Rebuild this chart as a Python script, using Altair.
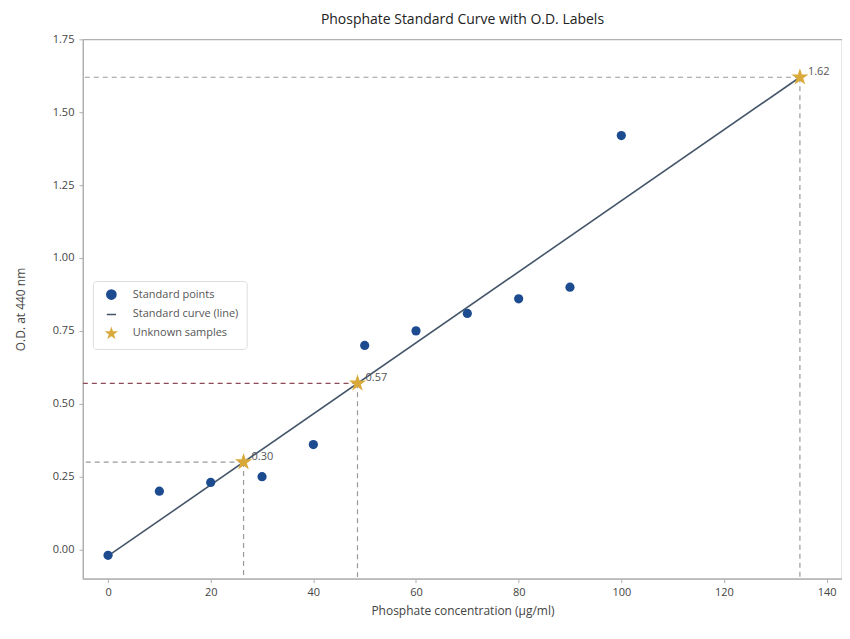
import altair as alt
import pandas as pd

# ---- data ----
std_conc = [0, 10, 20, 30, 40, 50, 60, 70, 80, 90, 100]
std_od = [-0.02, 0.20, 0.23, 0.25, 0.36, 0.70, 0.75, 0.81, 0.86, 0.90, 1.42]

curve_conc = [0, 134.8]
curve_od = [-0.022, 1.62]

unk_conc = [26.4, 48.6, 134.8]
unk_od = [0.30, 0.57, 1.62]
unk_labels = ["0.30", "0.57", "1.62"]
guide_colors = ["#9a9a9a", "#8b4a55", "#9a9a9a"]

series = ["Standard points", "Standard curve (line)", "Unknown samples"]
series_colors = ["#1d4b8f", "#46566a", "#d9a93a"]
STAR = ("M0,-1L0.2245,-0.309L0.951,-0.309L0.363,0.118L0.588,0.809L0,0.382"
        "L-0.588,0.809L-0.363,0.118L-0.951,-0.309L-0.2245,-0.309Z")
series_shapes = ["circle", "stroke", STAR]

x_ticks = [0, 20, 40, 60, 80, 100, 120, 140]
y_ticks = [0.0, 0.25, 0.5, 0.75, 1.0, 1.25, 1.5, 1.75]

FONT = "Open Sans"
H = 540

std_df = pd.DataFrame({"conc": std_conc, "od": std_od, "series": series[0]})
curve_df = pd.DataFrame({"conc": curve_conc, "od": curve_od, "series": series[1]})
unk_df = pd.DataFrame({"conc": unk_conc, "od": unk_od, "label": unk_labels,
                       "gcol": guide_colors, "series": series[2]})

xs = alt.Scale(domain=[-4.9, 143], nice=False, zero=False)
ys = alt.Scale(domain=[-0.1, 1.75], nice=False, zero=False)

xax = alt.Axis(values=x_ticks, format="d", grid=False, title="Phosphate concentration (μg/ml)")
yax = alt.Axis(values=y_ticks, format=".2f", grid=False, title="O.D. at 440 nm")

leg = alt.Legend(title=None, orient="none", legendX=10, legendY=242)
color = alt.Color("series:N", scale=alt.Scale(domain=series, range=series_colors), legend=leg)
shape = alt.Shape("series:N", scale=alt.Scale(domain=series, range=series_shapes), legend=leg)

h_guides = alt.Chart(unk_df).mark_rule(strokeDash=[5, 4], strokeWidth=1.2).encode(
    x=alt.X("conc:Q", scale=xs, axis=xax),
    x2=alt.value(0),
    y=alt.Y("od:Q", scale=ys, axis=yax),
    stroke=alt.Stroke("gcol:N", scale=None, legend=None),
)
v_guides = alt.Chart(unk_df).mark_rule(strokeDash=[5, 4], strokeWidth=1.2, stroke="#9a9a9a").encode(
    x=alt.X("conc:Q", scale=xs, axis=xax),
    y=alt.Y("od:Q", scale=ys, axis=yax),
    y2=alt.value(H),
)

curve = alt.Chart(curve_df).mark_line(strokeWidth=1.6).encode(
    x=alt.X("conc:Q", scale=xs, axis=xax),
    y=alt.Y("od:Q", scale=ys, axis=yax),
    color=color,
)

points = alt.Chart(std_df).mark_point(filled=True, size=85, opacity=1).encode(
    x=alt.X("conc:Q", scale=xs, axis=xax),
    y=alt.Y("od:Q", scale=ys, axis=yax),
    color=color,
    shape=shape,
)

stars = alt.Chart(unk_df).mark_point(filled=True, size=330, opacity=1).encode(
    x=alt.X("conc:Q", scale=xs, axis=xax),
    y=alt.Y("od:Q", scale=ys, axis=yax),
    color=color,
    shape=shape,
)

labels = alt.Chart(unk_df).mark_text(align="left", dx=8, dy=-5, fontSize=11,
                                     color="#555555", font=FONT).encode(
    x=alt.X("conc:Q", scale=xs, axis=xax),
    y=alt.Y("od:Q", scale=ys, axis=yax),
    text="label:N",
)

chart = alt.layer(h_guides, v_guides, curve, points, stars, labels).properties(
    width=760, height=H,
    title=alt.TitleParams("Phosphate Standard Curve with O.D. Labels", fontSize=14,
                          fontWeight="normal", color="#222222", font=FONT, offset=6),
    padding={"left": 6, "top": 5, "right": 0, "bottom": 8},
).configure_view(stroke="#b0b0b0", strokeWidth=1.2).configure_axis(
    labelFont=FONT, titleFont=FONT, labelFontSize=11, titleFontSize=12,
    labelColor="#444444", titleColor="#444444", titleFontWeight="normal",
    domainColor="#b0b0b0", domainWidth=1.2, tickColor="#b0b0b0", tickSize=4,
).configure_axisY(titlePadding=25, labelPadding=5).configure_axisX(titlePadding=8, labelPadding=4
).configure_legend(
    labelFont=FONT, labelFontSize=11, labelColor="#555555", fillColor="white",
    strokeColor="#dddddd", cornerRadius=3, padding=8, rowPadding=5, symbolSize=85,
    symbolOffset=5, labelOffset=16,
)

chart.save("out.html", embed_options={"renderer": "svg", "actions": False})
